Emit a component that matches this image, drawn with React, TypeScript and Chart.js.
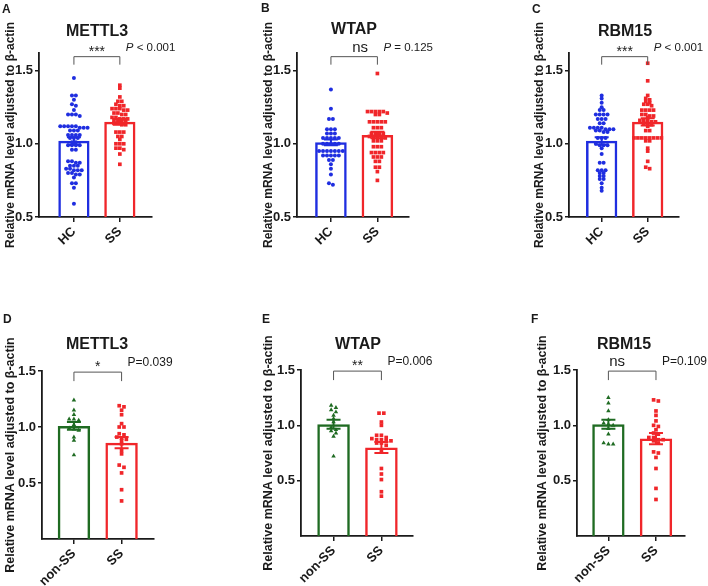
import React, { useEffect, useRef } from 'react';
import { Chart, registerables } from 'chart.js';

Chart.register(...registerables);

const FONT = '"Liberation Sans", Arial, Helvetica, sans-serif';
const INK = '#1a1a1a';
const BLUE = '#1f2ee0';
const RED = '#f0262a';
const GREEN = '#1f6b22';

const PANEL_W = 236;
const PANEL_H = 293;

// ---- values ----
const letters = ['A', 'B', 'C', 'D', 'E', 'F'];
const genes = ['METTL3', 'WTAP', 'RBM15', 'METTL3', 'WTAP', 'RBM15'];
const groupsTop = ['HC', 'SS'];
const groupsBottom = ['non-SS', 'SS'];
const sigMarks = ['***', 'ns', '***', '*', '**', 'ns'];
const pLabels = ['P < 0.001', 'P = 0.125', 'P < 0.001', 'P=0.039', 'P=0.006', 'P=0.109'];
const yTicksTop = [0.5, 1.0, 1.5];
const yTicksBottom = [0.5, 1.0, 1.5];
const yTitle = 'Relative mRNA level adjusted to β-actin';

// A: METTL3, HC vs SS
const mettl3HC = [
  1.45, 1.33, 1.33, 1.3, 1.27, 1.26, 1.23, 1.2, 1.2, 1.2, 1.19,
  1.12, 1.12, 1.12, 1.12, 1.12, 1.11, 1.11, 1.11, 1.09, 1.09, 1.09,
  1.06, 1.06, 1.06, 1.06, 1.04, 1.04, 1.04, 1.01, 1.01,
  0.99, 0.99, 0.99, 0.99, 0.96, 0.96, 0.88, 0.88, 0.87, 0.87,
  0.85, 0.85, 0.85, 0.83, 0.83, 0.82, 0.82, 0.82, 0.8, 0.8, 0.79, 0.79,
  0.77, 0.73, 0.73, 0.7, 0.59,
];
const mettl3SS = [
  1.4, 1.38, 1.32, 1.29, 1.29, 1.27, 1.26, 1.26, 1.24, 1.24, 1.24, 1.23, 1.23,
  1.21, 1.21, 1.2, 1.2, 1.18, 1.18, 1.17, 1.17, 1.17, 1.16, 1.16, 1.16, 1.15,
  1.14, 1.14, 1.13, 1.13, 1.08, 1.08, 1.08, 1.05, 1.05, 1.03, 1.0, 1.0, 1.0,
  0.97, 0.97, 0.96, 0.93, 0.86,
];
const meanA = [1.02, 1.15];
const semA = [0.025, 0.02];

// B: WTAP, HC vs SS
const wtapHC = [
  1.37, 1.24, 1.17, 1.17, 1.1, 1.1, 1.1, 1.07, 1.07, 1.07,
  1.04, 1.04, 1.04, 1.04, 1.04, 1.0, 1.0, 1.0, 1.0, 1.0,
  0.95, 0.95, 0.95, 0.95, 0.95, 0.95, 0.95, 0.92, 0.92, 0.92, 0.92, 0.92,
  0.89, 0.89, 0.86, 0.83, 0.79, 0.73, 0.72,
];
const wtapSS = [
  1.48, 1.22, 1.22, 1.22, 1.22, 1.22, 1.21, 1.2, 1.2, 1.15, 1.15, 1.15, 1.15, 1.15,
  1.11, 1.11, 1.11, 1.07, 1.07, 1.07, 1.07, 1.05, 1.05, 1.05, 1.05, 1.04,
  1.02, 1.02, 1.02, 0.98, 0.98, 0.98, 0.94, 0.94, 0.94, 0.94, 0.91, 0.91, 0.91,
  0.88, 0.88, 0.84, 0.84, 0.81, 0.75,
];
const meanB = [1.01, 1.06];
const semB = [0.02, 0.022];

// C: RBM15, HC vs SS
const rbm15HC = [
  1.33, 1.31, 1.28, 1.25, 1.23, 1.23, 1.2, 1.2, 1.2, 1.2, 1.17, 1.17, 1.17,
  1.14, 1.14, 1.11, 1.11, 1.11, 1.11, 1.1, 1.1, 1.1, 1.09, 1.09, 1.08, 1.08,
  1.04, 1.04, 1.04, 1.0, 0.99, 0.99, 0.99, 0.97, 0.93, 0.87, 0.87,
  0.82, 0.82, 0.82, 0.8, 0.8, 0.78, 0.78, 0.76, 0.76, 0.73, 0.7, 0.68,
];
const rbm15SS = [
  1.55, 1.43, 1.33, 1.31, 1.3, 1.29, 1.28, 1.27, 1.27, 1.26, 1.23, 1.23, 1.23, 1.23,
  1.2, 1.2, 1.19, 1.19, 1.18, 1.16, 1.16, 1.16, 1.15, 1.15, 1.14, 1.13, 1.13, 1.12,
  1.09, 1.09, 1.04, 1.04, 1.04, 1.04, 1.04, 1.04, 1.04, 1.04, 1.02, 1.02,
  0.97, 0.95, 0.88, 0.84, 0.83,
];
const meanC = [1.02, 1.15];
const semC = [0.025, 0.025];

// D: METTL3, non-SS vs SS
const mettl3NonSS = [1.24, 1.15, 1.11, 1.07, 1.07, 1.06, 1.02, 0.99, 0.98, 0.97, 0.91, 0.88, 0.75];
const mettl3SS2 = [
  1.19, 1.18, 1.15, 1.11, 1.03, 1.0, 1.0, 0.94, 0.93, 0.91, 0.9, 0.89, 0.88, 0.85,
  0.79, 0.76, 0.66, 0.64, 0.59, 0.44, 0.34,
];
const meanD = [1.01, 0.86];
const semD = [0.035, 0.05];

// E: WTAP, non-SS vs SS
const wtapNonSS = [1.18, 1.16, 1.14, 1.12, 1.09, 1.06, 1.03, 0.98, 0.96, 0.95, 0.93, 0.9, 0.72];
const wtapSS2 = [
  1.11, 1.11, 1.03, 1.0, 0.91, 0.91, 0.89, 0.88, 0.87, 0.87, 0.86, 0.86, 0.84, 0.84,
  0.82, 0.76, 0.61, 0.56, 0.51, 0.4, 0.36,
];
const meanE = [1.01, 0.8];
const semE = [0.04, 0.05];

// F: RBM15, non-SS vs SS
const rbm15NonSS = [1.25, 1.2, 1.13, 1.05, 1.02, 1.01, 1.0, 0.97, 0.92, 0.84, 0.83, 0.83];
const rbm15SS2 = [
  1.23, 1.22, 1.13, 1.09, 1.04, 1.0, 0.99, 0.96, 0.93, 0.92, 0.89, 0.89, 0.87, 0.87,
  0.86, 0.84, 0.76, 0.75, 0.71, 0.61, 0.43, 0.33,
];
const meanF = [1.01, 0.88];
const semF = [0.04, 0.05];

// ---- page layout of the six panels (pixels inside each 236x293 panel) ----
type Layout = {
  col: number; row: number;
  titleX: number; titleY: number; letterX: number; letterY: number;
  yTitleX: number; axisX: number; axisRight: number; axisTop: number; axisBottom: number;
  xMin: number; xMax: number; sigDx: number;
};

const layouts: Layout[] = [
  { col: 0, row: 0, titleX: 97, titleY: 36, letterX: 2, letterY: 13, yTitleX: 10, axisX: 39, axisRight: 152, axisTop: 53, axisBottom: 217, xMin: -0.76, xMax: 1.7, sigDx: 0 },
  { col: 1, row: 0, titleX: 118, titleY: 34, letterX: 25, letterY: 12, yTitleX: 32, axisX: 61, axisRight: 173, axisTop: 53, axisBottom: 217, xMin: -0.73, xMax: 1.68, sigDx: 6 },
  { col: 2, row: 0, titleX: 153, titleY: 36, letterX: 60, letterY: 13, yTitleX: 67, axisX: 97, axisRight: 207, axisTop: 53, axisBottom: 217, xMin: -0.71, xMax: 1.68, sigDx: 0 },
  { col: 0, row: 1, titleX: 97, titleY: 56, letterX: 3, letterY: 30, yTitleX: 10, axisX: 42, axisRight: 154, axisTop: 78, axisBottom: 246, xMin: -0.67, xMax: 1.68, sigDx: 0 },
  { col: 1, row: 1, titleX: 122, titleY: 56, letterX: 26, letterY: 30, yTitleX: 32, axisX: 65, axisRight: 177, axisTop: 77, axisBottom: 243, xMin: -0.68, xMax: 1.66, sigDx: 0 },
  { col: 2, row: 1, titleX: 152, titleY: 56, letterX: 59, letterY: 30, yTitleX: 70, axisX: 105, axisRight: 213, axisTop: 77, axisBottom: 243, xMin: -0.66, xMax: 1.61, sigDx: -15 },
];

type PanelSpec = {
  idx: number; layout: Layout; top: boolean;
  groups: string[]; values: number[][]; means: number[]; sems: number[];
  colors: string[]; shapes: string[];
};

const panelValues = [
  [mettl3HC, mettl3SS], [wtapHC, wtapSS], [rbm15HC, rbm15SS],
  [mettl3NonSS, mettl3SS2], [wtapNonSS, wtapSS2], [rbm15NonSS, rbm15SS2],
];
const panelMeans = [meanA, meanB, meanC, meanD, meanE, meanF];
const panelSems = [semA, semB, semC, semD, semE, semF];

const specs: PanelSpec[] = layouts.map((layout, idx) => {
  const top = idx < 3;
  return {
    idx, layout, top,
    groups: top ? groupsTop : groupsBottom,
    values: panelValues[idx],
    means: panelMeans[idx],
    sems: panelSems[idx],
    colors: top ? [BLUE, RED] : [GREEN, RED],
    shapes: top ? ['circle', 'rect'] : ['triangle', 'rect'],
  };
});

// GraphPad-like column scatter: values of similar height are laid out in a row
function swarm(values: number[], center: number, rowGap: number, step: number) {
  const sorted = [...values].sort((a, b) => b - a);
  const pts: { x: number; y: number }[] = [];
  let row: number[] = [];
  const flush = () => {
    row.forEach((v, k) => pts.push({ x: center + (k - (row.length - 1) / 2) * step, y: v }));
    row = [];
  };
  for (const v of sorted) {
    if (row.length && v < row[0] - rowGap) flush();
    row.push(v);
  }
  flush();
  return pts;
}

function overlay(p: PanelSpec) {
  const L = p.layout;
  return {
    id: 'overlay' + p.idx,
    afterDatasetsDraw(chart: any) {
      const { ctx } = chart;
      const xs = chart.scales.x;
      const ys = chart.scales.y;
      ctx.save();

      // mean +/- SEM
      p.means.forEach((m: number, i: number) => {
        const x = xs.getPixelForValue(i);
        const hi = ys.getPixelForValue(m + p.sems[i]);
        const lo = ys.getPixelForValue(m - p.sems[i]);
        ctx.strokeStyle = p.colors[i];
        ctx.lineWidth = 2;
        ctx.beginPath();
        ctx.moveTo(x, hi); ctx.lineTo(x, lo);
        ctx.moveTo(x - 7, hi); ctx.lineTo(x + 7, hi);
        ctx.moveTo(x - 7, lo); ctx.lineTo(x + 7, lo);
        ctx.stroke();
      });

      // significance bracket
      const x0 = xs.getPixelForValue(0);
      const x1 = xs.getPixelForValue(1);
      const by = ys.getPixelForValue(p.top ? 1.595 : 1.49);
      const leg = p.top ? 8 : 9;
      ctx.strokeStyle = '#555';
      ctx.lineWidth = 1;
      ctx.beginPath();
      ctx.moveTo(x0, by + leg); ctx.lineTo(x0, by); ctx.lineTo(x1, by); ctx.lineTo(x1, by + leg);
      ctx.stroke();

      ctx.fillStyle = INK;
      ctx.textBaseline = 'alphabetic';
      ctx.textAlign = 'center';
      const sig = sigMarks[p.idx];
      const star = sig.includes('*');
      ctx.font = `${star ? 14 : 15}px ${FONT}`;
      ctx.fillText(sig, (x0 + x1) / 2 + L.sigDx, by - (star ? 1 : 5));

      // P value
      ctx.textAlign = 'left';
      const label = pLabels[p.idx];
      const py = by - 6;
      let px = x1 + 6;
      if (p.top) {
        ctx.font = `italic 11.5px ${FONT}`;
        ctx.fillText('P', px, py);
        px += ctx.measureText('P').width;
        ctx.font = `11.5px ${FONT}`;
        ctx.fillText(label.slice(1), px, py);
      } else {
        ctx.font = `12px ${FONT}`;
        ctx.fillText(label, px, py);
      }

      // gene title and panel letter
      ctx.textAlign = 'center';
      ctx.font = `bold 16px ${FONT}`;
      ctx.fillText(genes[p.idx], L.titleX, L.titleY);
      ctx.textAlign = 'left';
      ctx.font = `bold 12px ${FONT}`;
      ctx.fillText(letters[p.idx], L.letterX, L.letterY);
      ctx.restore();
    },
  };
}

function Panel({ spec }: { spec: PanelSpec }) {
  const canvasRef = useRef<HTMLCanvasElement | null>(null);

  useEffect(() => {
    if (!canvasRef.current) return;
    const L = spec.layout;
    const padLeft = L.yTitleX - 10;
    const yTicks = spec.top ? yTicksTop : yTicksBottom;
    const rowGap = spec.top ? 0.015 : 0.025;
    const step = spec.top ? 0.085 : 0.1;

    const chart = new Chart(canvasRef.current, {
      type: 'bar',
      data: {
        datasets: [
          {
            type: 'bar',
            data: spec.means.map((m, i) => ({ x: i, y: m })),
            backgroundColor: 'rgba(255,255,255,0)',
            borderColor: spec.colors,
            borderWidth: 2.5,
            borderSkipped: 'start',
            barPercentage: 0.68,
            categoryPercentage: 1,
            order: 2,
          } as any,
          ...spec.values.map((vals, i) => ({
            type: 'scatter' as const,
            data: swarm(vals, i, rowGap, step),
            pointStyle: spec.shapes[i],
            pointRadius: spec.shapes[i] === 'circle' ? 2 : 2.6,
            backgroundColor: spec.colors[i],
            borderWidth: 0,
            showLine: false,
            order: 1,
          })),
        ],
      },
      options: {
        responsive: false,
        animation: false,
        events: [],
        layout: {
          padding: { left: padLeft, top: L.axisTop, right: PANEL_W - L.axisRight, bottom: 0 },
        },
        plugins: {
          legend: { display: false },
          tooltip: { enabled: false },
        },
        scales: {
          x: {
            type: 'linear',
            offset: false,
            bounds: 'data',
            min: L.xMin,
            max: L.xMax,
            afterBuildTicks: (s: any) => {
              s.ticks = spec.groups.map((_, i) => ({ value: i }));
            },
            afterFit: (s: any) => {
              s.height = PANEL_H - L.axisBottom;
            },
            ticks: {
              autoSkip: false,
              minRotation: 45,
              maxRotation: 45,
              padding: 2,
              color: INK,
              font: { family: FONT, size: 13, weight: 'bold' },
              callback: (v: any) => spec.groups[Math.round(Number(v))],
            },
            grid: {
              offset: false,
              drawOnChartArea: false,
              drawTicks: true,
              tickLength: 5,
              color: INK,
              lineWidth: 1.5,
            },
            border: { display: true, color: INK, width: 1.8 },
          },
          y: {
            type: 'linear',
            min: spec.top ? 0.5 : 0,
            max: spec.top ? 1.62 : 1.5,
            afterBuildTicks: (s: any) => {
              s.ticks = yTicks.map((v) => ({ value: v }));
            },
            afterFit: (s: any) => {
              s.width = L.axisX - padLeft;
            },
            ticks: {
              padding: 2,
              color: INK,
              font: { family: FONT, size: 13, weight: 'bold' },
              callback: (v: any) => Number(v).toFixed(1),
            },
            grid: {
              drawOnChartArea: false,
              drawTicks: true,
              tickLength: 4,
              color: INK,
              lineWidth: 1.5,
            },
            border: { display: true, color: INK, width: 1.8 },
            title: {
              display: true,
              text: yTitle,
              color: INK,
              font: { family: FONT, size: spec.top ? 12 : 12.5, weight: 'bold' },
              padding: { top: 3, bottom: 0 },
            },
          },
        },
      },
      plugins: [overlay(spec)],
    });

    return () => {
      chart.destroy();
    };
  }, [spec]);

  return (
    <canvas
      ref={canvasRef}
      width={PANEL_W}
      height={PANEL_H}
      style={{
        position: 'absolute',
        left: spec.layout.col * PANEL_W,
        top: spec.layout.row * PANEL_H,
        width: PANEL_W,
        height: PANEL_H,
      }}
    />
  );
}

export default function App() {
  return (
    <div style={{ position: 'absolute', left: 0, top: 0, width: 708, height: 586, background: '#fff' }}>
      {specs.map((s) => (
        <Panel key={s.idx} spec={s} />
      ))}
    </div>
  );
}
